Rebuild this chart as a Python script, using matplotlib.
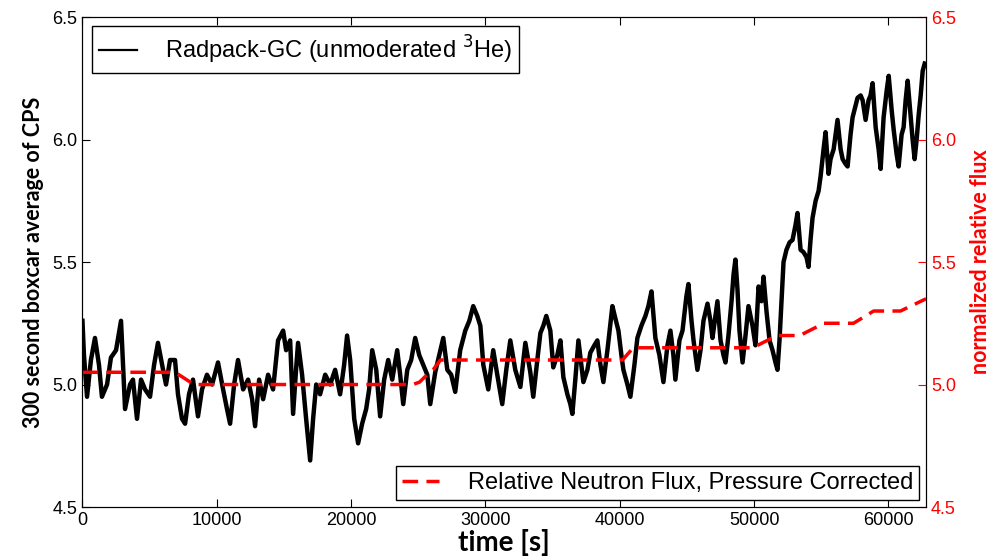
import matplotlib.pyplot as plt
from matplotlib.ticker import FormatStrFormatter

# 300 s boxcar average of counts per second
time_s = [0, 110, 340, 630, 930, 1230, 1450, 1830, 2120, 2500,
          2870, 3170, 3540, 3760, 4060, 4360, 4660, 5030, 5330, 5620,
          6000, 6220, 6520, 6890, 7110, 7410, 7640, 7930, 8230, 8600,
          8900, 9270, 9650, 10090, 10470, 10760, 10990, 11290, 11580, 11960,
          12330, 12630, 12850, 13150, 13450, 13820, 14190, 14560, 14940, 15160,
          15460, 15680, 15900, 16050, 16350, 16650, 16950, 17170, 17400, 17690,
          18070, 18440, 18810, 19180, 19480, 19700, 19930, 20230, 20520, 20820,
          21120, 21340, 21570, 21870, 22160, 22460, 22760, 23060, 23430, 23650,
          23880, 24180, 24470, 24770, 25070, 25370, 25670, 25890, 26260, 26560,
          26860, 27160, 27450, 27750, 28120, 28500, 28800, 29090, 29390, 29620,
          29840, 30210, 30580, 30880, 31250, 31550, 31850, 32220, 32600, 32970,
          33340, 33560, 33860, 34090, 34310, 34530, 34830, 35050, 35350, 35580,
          35800, 36100, 36320, 36470, 36690, 36920, 37290, 37590, 37810, 38110,
          38330, 38560, 38780, 39080, 39450, 39670, 39900, 40120, 40270, 40570,
          40790, 41090, 41310, 41610, 41910, 42130, 42360, 42650, 42950, 43250,
          43550, 43770, 43990, 44140, 44440, 44670, 44960, 45110, 45340, 45490,
          45780, 46010, 46230, 46530, 46750, 46900, 47120, 47270, 47500, 47720,
          47870, 48090, 48320, 48470, 48610, 48760, 48910, 49140, 49360, 49580,
          49880, 50100, 50330, 50550, 50700, 50920, 51150, 51370, 51590, 51740,
          51890, 52040, 52190, 52410, 52640, 52860, 53080, 53230, 53460, 53680,
          53900, 54050, 54200, 54350, 54580, 54800, 54950, 55170, 55320, 55540,
          55690, 55920, 56210, 56440, 56590, 56810, 56960, 57180, 57330, 57560,
          57700, 57930, 58080, 58300, 58520, 58670, 58820, 59050, 59270, 59420,
          59640, 59870, 60020, 60240, 60390, 60610, 60760, 60980, 61130, 61280,
          61430, 61650, 61800, 61950, 62100, 62250, 62400, 62550, 62700]
cps = [5.26, 5.12, 4.95, 5.10, 5.19, 5.08, 4.95, 5.00, 5.11, 5.14,
       5.26, 4.90, 5.00, 5.02, 4.86, 5.02, 4.98, 4.95, 5.08, 5.17,
       5.06, 5.00, 5.10, 5.10, 4.96, 4.86, 4.84, 4.96, 5.02, 4.87,
       4.98, 5.04, 5.00, 5.09, 4.98, 4.90, 4.84, 5.00, 5.10, 4.98,
       5.02, 4.94, 4.83, 5.02, 4.94, 5.04, 4.98, 5.18, 5.22, 5.14,
       5.18, 4.88, 5.06, 5.17, 5.04, 4.86, 4.69, 4.86, 5.00, 4.96,
       5.04, 5.00, 5.06, 4.96, 5.08, 5.20, 5.10, 4.86, 4.76, 4.84,
       4.90, 4.98, 5.14, 5.06, 4.87, 5.02, 5.10, 5.02, 5.14, 5.04,
       4.92, 5.06, 5.10, 5.19, 5.12, 5.08, 5.04, 4.92, 5.05, 5.12,
       5.19, 5.06, 5.04, 4.97, 5.14, 5.22, 5.26, 5.32, 5.28, 5.24,
       5.08, 4.98, 5.14, 5.04, 4.92, 5.06, 5.18, 5.06, 4.99, 5.17,
       5.05, 4.95, 5.10, 5.21, 5.24, 5.28, 5.22, 5.07, 5.12, 5.18,
       5.03, 4.96, 4.92, 4.88, 5.02, 5.18, 5.01, 5.06, 5.13, 5.16,
       5.18, 5.08, 5.01, 5.14, 5.32, 5.27, 5.22, 5.12, 5.06, 5.00,
       4.95, 5.08, 5.19, 5.24, 5.28, 5.32, 5.38, 5.19, 5.12, 5.01,
       5.16, 5.22, 5.12, 5.02, 5.18, 5.22, 5.36, 5.41, 5.26, 5.18,
       5.06, 5.14, 5.26, 5.33, 5.26, 5.19, 5.28, 5.34, 5.18, 5.12,
       5.09, 5.20, 5.34, 5.45, 5.51, 5.39, 5.22, 5.09, 5.20, 5.32,
       5.24, 5.16, 5.40, 5.34, 5.44, 5.30, 5.18, 5.14, 5.09, 5.06,
       5.18, 5.34, 5.50, 5.55, 5.58, 5.59, 5.65, 5.70, 5.55, 5.54,
       5.52, 5.48, 5.59, 5.68, 5.75, 5.79, 5.85, 5.96, 6.03, 5.86,
       5.92, 5.96, 6.08, 5.96, 5.92, 5.90, 5.89, 6.02, 6.09, 6.14,
       6.17, 6.18, 6.16, 6.08, 6.16, 6.18, 6.23, 6.05, 5.96, 5.88,
       6.09, 6.20, 6.26, 6.12, 6.04, 5.94, 5.89, 6.02, 6.05, 6.16,
       6.24, 6.10, 6.00, 5.92, 6.00, 6.10, 6.18, 6.28, 6.31]

# relative neutron flux (pressure corrected)
flux_time_s = [0, 6900, 8300, 24600, 25100, 25650, 26100, 26650, 40200, 41000,
               49900, 51700, 53400, 55200, 57400, 58900, 60900, 62800]
flux = [5.05, 5.05, 5.00, 5.00, 5.01, 5.04, 5.06, 5.10, 5.10, 5.15,
        5.15, 5.20, 5.20, 5.25, 5.25, 5.30, 5.30, 5.35]

y_ticks = [4.5, 5.0, 5.5, 6.0, 6.5]
x_ticks = [0, 10000, 20000, 30000, 40000, 50000, 60000]

plt.rcParams['font.family'] = ['Liberation Sans', 'DejaVu Sans']

fig = plt.figure(figsize=(9.9, 5.56), dpi=100)
ax1 = fig.add_axes([0.0833, 0.0881, 0.8521, 0.8813])
ax1.plot(time_s, cps, color='black', linewidth=3.2, label='Radpack-GC (unmoderated $^3$He)')
ax1.set_xlim(0, 62800)
ax1.set_ylim(4.5, 6.5)
ax1.set_xticks(x_ticks)
ax1.set_yticks(y_ticks)
ax1.yaxis.set_major_formatter(FormatStrFormatter('%.1f'))
ax1.tick_params(direction='in', top=True, right=False, labelsize=13, length=6)
ax1.set_xlabel('time [s]', fontsize=20, fontweight='bold', family='Lato', labelpad=0)
ax1.set_ylabel('300 second boxcar average of CPS', fontsize=15.5, fontweight='bold',
               family='Lato', labelpad=6)
leg1 = ax1.legend(loc='upper left', fontsize=17, handletextpad=1.2, handlelength=1.6,
                  borderpad=0.3, fancybox=False, edgecolor='black', framealpha=1,
                  borderaxespad=0.4)
leg1.get_lines()[0].set_linewidth(1.6)

ax2 = ax1.twinx()
ax2.plot(flux_time_s, flux, color='red', linestyle='--', linewidth=2.5,
         dashes=(4.5, 2.4), label='Relative Neutron Flux, Pressure Corrected')
ax2.set_ylim(4.5, 6.5)
ax2.set_yticks(y_ticks)
ax2.yaxis.set_major_formatter(FormatStrFormatter('%.1f'))
ax2.tick_params(direction='in', labelsize=13, length=6, colors='red')
ax2.set_ylabel('normalized relative flux', color='red', fontsize=15.5, fontweight='bold',
               family='Lato', labelpad=10)
ax2.legend(loc='lower right', fontsize=17, handletextpad=1.2, handlelength=1.6,
           borderpad=0.25, fancybox=False, edgecolor='black', framealpha=1,
           borderaxespad=0.3)

fig.savefig('out.png', dpi=100)
